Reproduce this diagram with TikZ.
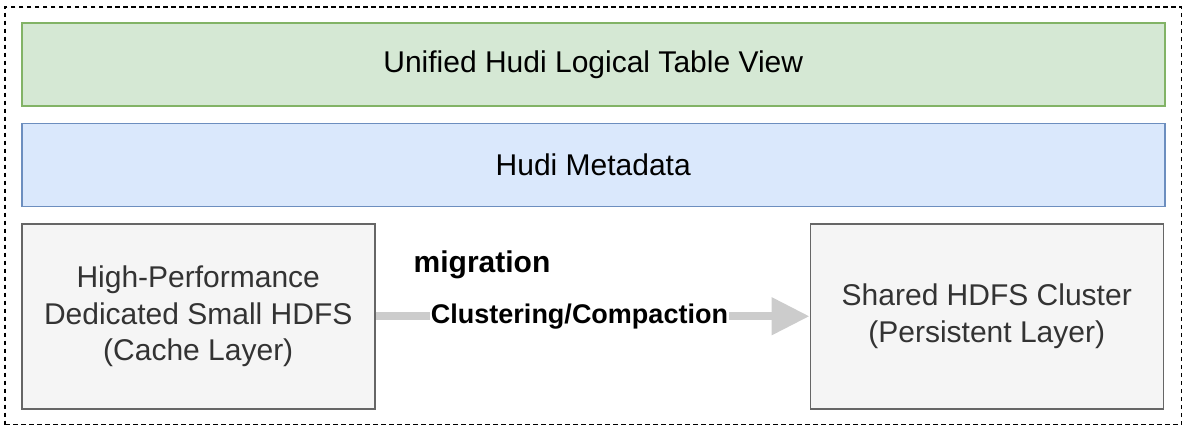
\documentclass[tikz,border=0pt]{standalone}
\usepackage{fontspec}
\setmainfont{Liberation Sans}
\usetikzlibrary{arrows.meta, positioning, fit}

\definecolor{viewfill}{HTML}{D5E8D4}
\definecolor{viewline}{HTML}{82B366}
\definecolor{metafill}{HTML}{DAE8FC}
\definecolor{metaline}{HTML}{6C8EBF}
\definecolor{hdfsfill}{HTML}{F5F5F5}
\definecolor{hdfsline}{HTML}{666666}
\definecolor{hdfstext}{HTML}{333333}
\definecolor{arrowgray}{HTML}{CCCCCC}

\begin{document}
\begin{tikzpicture}[
  x=1pt, y=-1pt,
  font=\fontsize{30}{36.5}\selectfont,
  layer/.style={draw, line width=1.5pt, minimum width=1143pt, minimum height=83pt, align=center},
  hdfs/.style={draw=hdfsline, fill=hdfsfill, text=hdfstext, line width=1.5pt, minimum width=353pt, minimum height=185pt, align=center},
  frame/.style={draw, dashed, dash pattern=on 4.5pt off 3.5pt, line width=1.8pt, inner sep=16pt},
  mig/.style={-{Triangle[length=38pt, width=36pt]}, line width=8pt, draw=arrowgray},
  lbl/.style={font=\fontsize{27}{32}\selectfont\bfseries, inner sep=1pt, fill=white}
]
\useasboundingbox (0,0) rectangle (1190,434);
\node[layer, draw=viewline, fill=viewfill, anchor=north west] (view) at (21,22) {Unified Hudi Logical Table View};
\node[layer, draw=metaline, fill=metafill, below=16pt of view] (meta) {Hudi Metadata};
\node[hdfs, below=16pt of meta.south west, anchor=north west] (cache) {High-Performance\\Dedicated Small HDFS\\(Cache Layer)};
\node[hdfs, right=434pt of cache] (shared) {Shared HDFS Cluster\\(Persistent Layer)};
\node[frame, fit=(view)(cache)(shared), inner ysep=15pt] (outer) {};
\draw[mig] (cache) -- node[lbl, pos=0.47] (clus) {Clustering/Compaction} (shared);
\node[lbl, fill=none, font=\fontsize{30}{36}\selectfont\bfseries] (note) at (482,265) {migration};
\end{tikzpicture}
\end{document}
